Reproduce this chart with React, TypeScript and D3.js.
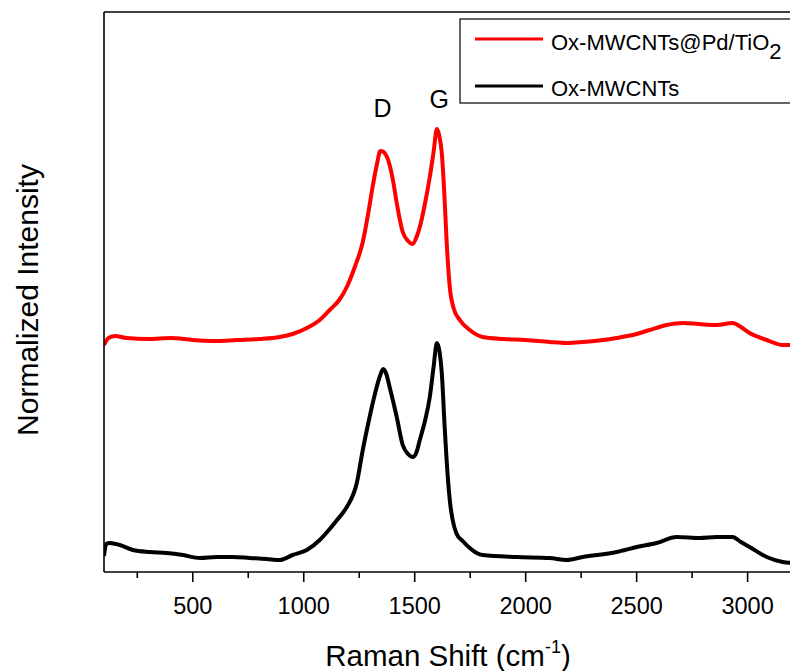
import React from "react";
import * as d3 from "d3";

const redX = [100, 120, 150, 200, 300, 400, 500, 600, 700, 800, 892, 950, 1014, 1072, 1117, 1160, 1194, 1230, 1266, 1290, 1311, 1330, 1345, 1360, 1375, 1387, 1405, 1419, 1446, 1470, 1490, 1510, 1523, 1545, 1568, 1585, 1600, 1612, 1622, 1633, 1644, 1658, 1675, 1703, 1748, 1806, 1900, 2000, 2108, 2185, 2257, 2410, 2500, 2559, 2635, 2707, 2780, 2860, 2932, 2970, 3009, 3086, 3158, 3200];
const redY = [227, 234, 236, 234, 233, 234, 232, 231, 232, 233, 235, 238, 244, 252, 262, 272, 285, 305, 330, 358, 386, 408, 421, 420, 415, 407, 388, 369, 340, 331, 328, 336, 345, 367, 395, 420, 443, 435, 419, 380, 330, 285, 264, 252, 242, 235, 233, 232, 230, 229, 230, 234, 238, 242, 247, 249, 248, 247, 249, 245, 239, 232, 227, 227];

const blackX = [100, 110, 126, 171, 230, 306, 383, 455, 532, 608, 680, 757, 833, 892, 950, 1014, 1072, 1117, 1150, 1194, 1239, 1266, 1290, 1311, 1342, 1358, 1372, 1387, 1419, 1446, 1470, 1491, 1510, 1523, 1545, 1568, 1585, 1600, 1612, 1622, 1635, 1649, 1660, 1671, 1689, 1716, 1748, 1779, 1806, 1959, 2108, 2185, 2257, 2410, 2500, 2590, 2680, 2784, 2860, 2932, 2970, 3009, 3086, 3158, 3200];
const blackY = [16, 28, 29, 27, 22, 20, 19, 17, 14, 15, 15, 14, 13, 12, 17, 22, 32, 43, 52, 65, 89, 122, 148, 169, 195, 203, 198, 185, 155, 127, 118, 115, 121, 132, 150, 175, 205, 229, 220, 199, 145, 95, 68, 52, 38, 31, 24, 19, 17, 15, 14, 12, 15, 20, 25, 29, 35, 34, 35, 35, 30, 25, 15, 10, 9];

const majorTicks = [500, 1000, 1500, 2000, 2500, 3000];
const minorTicks = [250, 750, 1250, 1750, 2250, 2750];
const seriesNames = ["Ox-MWCNTs@Pd/TiO", "Ox-MWCNTs"];
const peakLabels = [
  { label: "D", x: 1355, v: 455 },
  { label: "G", x: 1610, v: 464 },
];

const W = 790;
const H = 671;
const left = 104;
const top = 12;
const bottom = 572;
const right = 792;
const FONT = "Liberation Sans, Arial, sans-serif";

export default function App() {
  const x = d3.scaleLinear().domain([100, 3200]).range([left, right]);
  const y = d3.scaleLinear().domain([0, 560]).range([bottom, top]);
  const mk = (xs: number[], ys: number[]) =>
    d3
      .line<[number, number]>()
      .x((d) => x(d[0]))
      .y((d) => y(d[1]))
      .curve(d3.curveMonotoneX)(xs.map((v, i) => [v, ys[i]] as [number, number])) || "";
  return (
    <svg
      width={W}
      height={H}
      style={{ position: "absolute", left: 0, top: 0, background: "#fff" }}
      fontFamily={FONT}
    >
      <defs>
        <clipPath id="plot">
          <rect x={left} y={top} width={right - left} height={bottom - top} />
        </clipPath>
      </defs>
      <g clipPath="url(#plot)">
        <path d={mk(redX, redY)} fill="none" stroke="#ff0000" strokeWidth={4} strokeLinejoin="round" />
        <path d={mk(blackX, blackY)} fill="none" stroke="#000" strokeWidth={4} strokeLinejoin="round" />
      </g>
      <line x1={left} x2={W} y1={top} y2={top} stroke="#000" strokeWidth={1.6} />
      <line x1={left} x2={left} y1={top} y2={bottom} stroke="#000" strokeWidth={1.6} />
      <line x1={left} x2={W} y1={bottom} y2={bottom} stroke="#000" strokeWidth={1.6} />
      {majorTicks.map((t) => (
        <g key={t}>
          <line x1={x(t)} x2={x(t)} y1={bottom} y2={bottom + 10} stroke="#000" strokeWidth={1.6} />
          <text x={x(t)} y={614} textAnchor="middle" fontSize={23.5}>
            {t}
          </text>
        </g>
      ))}
      {minorTicks.map((t) => (
        <line key={t} x1={x(t)} x2={x(t)} y1={bottom} y2={bottom + 6} stroke="#000" strokeWidth={1.6} />
      ))}
      <text x={448} y={666} textAnchor="middle" fontSize={29.5}>
        Raman Shift (cm
        <tspan fontSize={18} dy={-13}>-1</tspan>
        <tspan dy={13}>)</tspan>
      </text>
      <text transform="translate(38,300) rotate(-90)" textAnchor="middle" fontSize={30}>
        Normalized Intensity
      </text>
      {peakLabels.map((p) => (
        <text key={p.label} x={x(p.x)} y={y(p.v)} textAnchor="middle" fontSize={25}>
          {p.label}
        </text>
      ))}
      <rect x={460} y={19} width={340} height={84} fill="#fff" stroke="#000" strokeWidth={1.2} />
      <line x1={475} x2={543} y1={39} y2={39} stroke="#ff0000" strokeWidth={3} />
      <text x={551} y={50} fontSize={22}>
        {seriesNames[0]}
        <tspan fontSize={22} dy={9}>2</tspan>
      </text>
      <line x1={475} x2={543} y1={86} y2={86} stroke="#000" strokeWidth={3} />
      <text x={551} y={96} fontSize={22}>
        {seriesNames[1]}
      </text>
    </svg>
  );
}
